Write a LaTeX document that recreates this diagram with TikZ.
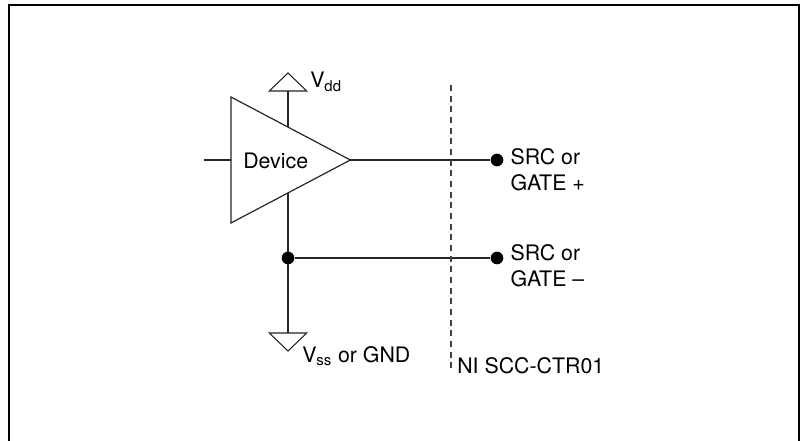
\documentclass[tikz,border=0pt]{standalone}
\usepackage{fontspec}
\setmainfont{TeX Gyre Heros}
\usetikzlibrary{shapes.geometric,positioning,calc}

\tikzset{
    wire/.style={line width=1pt, black!85},
    junction/.style={circle, fill=black, inner sep=0pt, minimum size=9.5pt},
    rail/.style={draw, black!85, line width=0.8pt, isosceles triangle, isosceles triangle stretches, inner sep=0pt, outer sep=0pt, minimum width=28pt, minimum height=13.5pt, anchor=lower side},
    lbl/.style={inner sep=0pt, font=\fontsize{16}{19.5}\selectfont, align=left}
}

\begin{document}
\begin{tikzpicture}[x=0.75pt, y=-0.75pt]
    \useasboundingbox (0,0) rectangle (800,441);

    % Outer frame
    \draw[line width=1.8pt] (9,441) -- (9,5) -- (799,5) -- (799,441);

    % Amplifier
    \node[draw, black!85, line width=0.9pt, isosceles triangle, isosceles triangle stretches, inner sep=0pt, outer sep=0pt, minimum width=94.5pt, minimum height=89.5pt, anchor=lower side] (device) at (231,160) {};
    \node[lbl, anchor=west] (devicetext) at (243,160.5) {Device};

    % Supply rails
    \node[rail, shape border rotate=90] (vdd) at (288,91) {};
    \node[rail, shape border rotate=270] (vss) at (288,333) {};
    \coordinate (vddfoot) at (288,127);
    \coordinate (vssfoot) at (288,193);
    \draw[wire] (vdd.lower side) -- (vddfoot);
    \draw[wire] (vssfoot) -- (vss.lower side);

    % Terminals
    \node[junction] (tap) at (288,258) {};
    \node[junction] (srcplus) at (497,160) {};
    \node[junction] (srcminus) at (497,258) {};
    \coordinate (input) at (204,160);
    \draw[wire] (input) -- (device.lower side);
    \draw[wire] (device.apex) -- (srcplus);
    \draw[wire] (tap) -- (srcminus);

    % Board boundary
    \coordinate (edgetop) at (451,85);
    \coordinate (edgebottom) at (451,368);
    \draw[black!75, line width=1pt, dash pattern=on 4.5pt off 3.5pt] (edgetop) -- (edgebottom);

    % Labels
    \node[lbl, anchor=west] (vddtext) at (310,82) {V\textsubscript{dd}};
    \node[lbl, anchor=west] (vsstext) at (302,356) {V\textsubscript{ss} or GND};
    \node[lbl, right=5pt of srcplus, yshift=-7.5pt] (plustext) {SRC or\\GATE +};
    \node[lbl, right=5pt of srcminus, yshift=-5.5pt] (minustext) {SRC or\\GATE --};
    \node[lbl, anchor=west] (boardtext) at (457,366) {NI SCC-CTR01};
\end{tikzpicture}
\end{document}
